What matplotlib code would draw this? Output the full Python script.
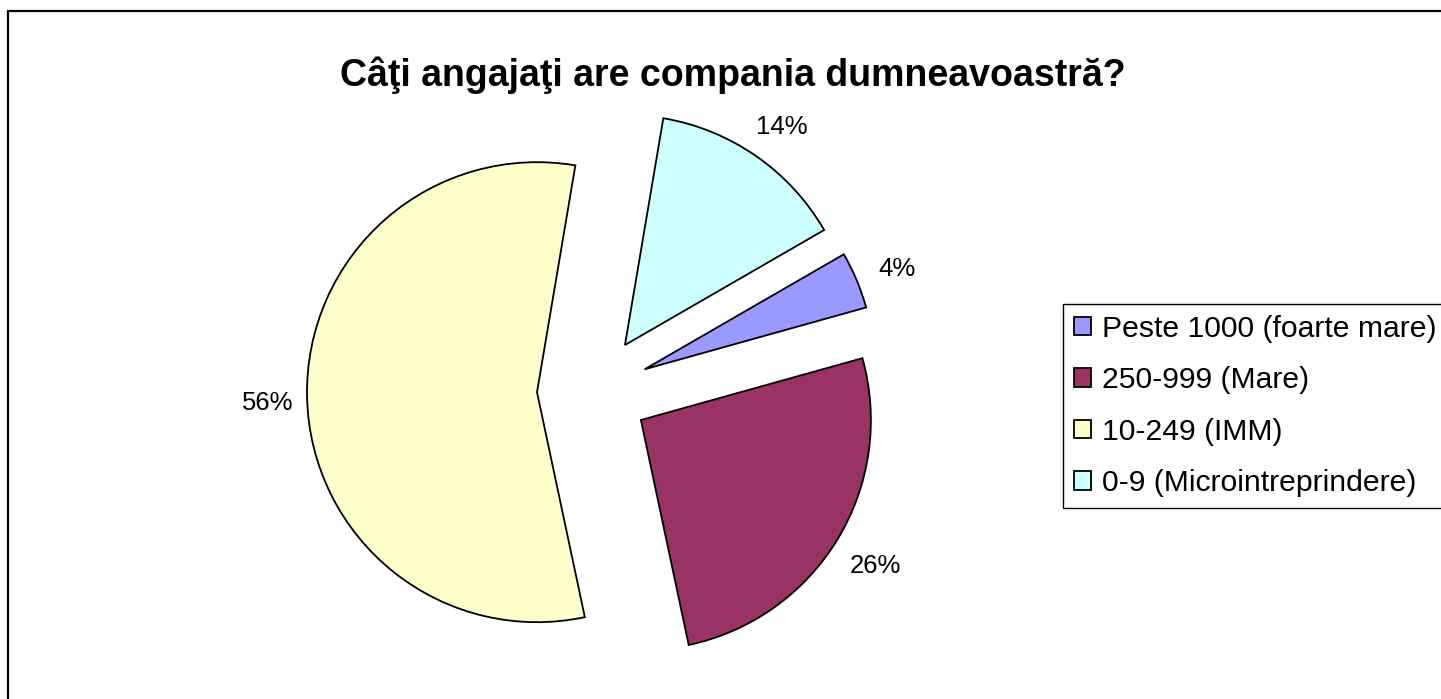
import matplotlib
matplotlib.use("Agg")
import matplotlib.pyplot as plt
from matplotlib.patches import Rectangle

plt.rcParams['font.family'] = ['Liberation Sans', 'DejaVu Sans']

title = "Câţi angajaţi are compania dumneavoastră?"
categories = ["Peste 1000 (foarte mare)", "250-999 (Mare)", "10-249 (IMM)", "0-9 (Microintreprindere)"]
shares = [4, 26, 56, 14]
colors = ["#9999FF", "#993366", "#FFFFCC", "#CCFFFF"]

W, H = 1441, 699
fig = plt.figure(figsize=(W / 100, H / 100), dpi=100)
ax = fig.add_axes([0, 0, 1, 1])

# chart border: only left and top edges are inside the picture
fig.patches.append(Rectangle((8, -20), W + 50, H - 11 + 20, transform=None,
                             fill=False, edgecolor='black', linewidth=1.6))

# explode is in data units (pixels here)
wedges, texts, autotexts = ax.pie(
    shares, colors=colors, startangle=30, counterclock=False,
    center=(593, H - 391), radius=230, explode=[56] * 4,
    autopct='%1.0f%%', pctdistance=1.18,
    wedgeprops=dict(edgecolor='black', linewidth=1.3), frame=True)
for t in autotexts:
    t.set_fontsize(18.5)
    x, y = t.get_position()
    t.set_position((x + 2, y - 5))
ax.set_xlim(0, W)
ax.set_ylim(0, H)
ax.set_aspect('equal')
ax.axis('off')

fig.text(733 / W, 1 - 75 / H, title, ha='center', va='center',
         fontsize=27, fontweight='bold')

handles = [Rectangle((0, 0), 1, 1, facecolor=c, edgecolor='black', linewidth=1.3) for c in colors]
leg = fig.legend(handles, categories, loc='upper left',
                 bbox_to_anchor=(1063 / W, 1 - 304 / H), fontsize=21.7,
                 handlelength=0.57, handleheight=0.57, handletextpad=0.37,
                 labelspacing=0.78, borderpad=0.35, borderaxespad=0,
                 fancybox=False, framealpha=1)
leg.get_frame().set_edgecolor('black')
leg.get_frame().set_linewidth(1.0)

fig.savefig("out.png", dpi=100)
